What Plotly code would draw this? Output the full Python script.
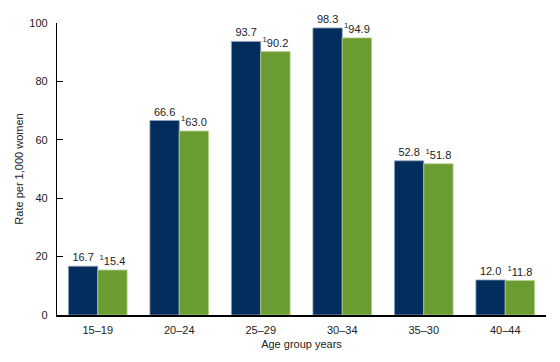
import plotly.graph_objects as go

categories = ["15–19", "20–24", "25–29", "30–34", "35–30", "40–44"]
series_a = [16.7, 66.6, 93.7, 98.3, 52.8, 12.0]
series_b = [15.4, 63.0, 90.2, 94.9, 51.8, 11.8]
labels_a = [f"{v:.1f}" for v in series_a]
labels_b = [f"<sup>1</sup>{v:.1f}" for v in series_b]
y_ticks = [0, 20, 40, 60, 80, 100]

font = "Liberation Sans, Arial, sans-serif"

fig = go.Figure()
fig.add_trace(go.Bar(
    x=categories, y=series_a, text=labels_a, textposition="outside",
    marker=dict(color="#022d5c", line=dict(color="#8fa3bb", width=0.8)),
    textfont=dict(size=11, color="#222222", family=font), cliponaxis=False,
))
fig.add_trace(go.Bar(
    x=categories, y=series_b, text=labels_b, textposition="outside",
    marker=dict(color="#6b9c32", line=dict(color="#b5d08e", width=0.8)),
    textfont=dict(size=11, color="#222222", family=font), cliponaxis=False,
))

fig.update_layout(
    width=552, height=354,
    margin=dict(l=49, r=14, t=15, b=47, autoexpand=False),
    paper_bgcolor="white", plot_bgcolor="white",
    barmode="group", bargap=0.28, bargroupgap=0,
    showlegend=False,
    font=dict(family=font, size=11, color="#222222"),
    xaxis=dict(
        showline=True, linecolor="black", linewidth=1.5,
        ticks="", showgrid=False, automargin=False,
        ticklabelstandoff=4,
        title=dict(text="Age group years", standoff=5, font=dict(size=11)),
        tickfont=dict(size=11),
    ),
    yaxis=dict(
        range=[0, 100], tickvals=y_ticks, automargin=False,
        showline=True, linecolor="black", linewidth=1.2,
        ticks="inside", ticklen=6, tickcolor="black",
        ticklabelstandoff=6,
        showgrid=False, zeroline=False,
        title=dict(text="Rate per 1,000 women", standoff=3, font=dict(size=11)),
        tickfont=dict(size=11),
    ),
)
fig.update_traces(textangle=0)

fig.write_html("out.html")
